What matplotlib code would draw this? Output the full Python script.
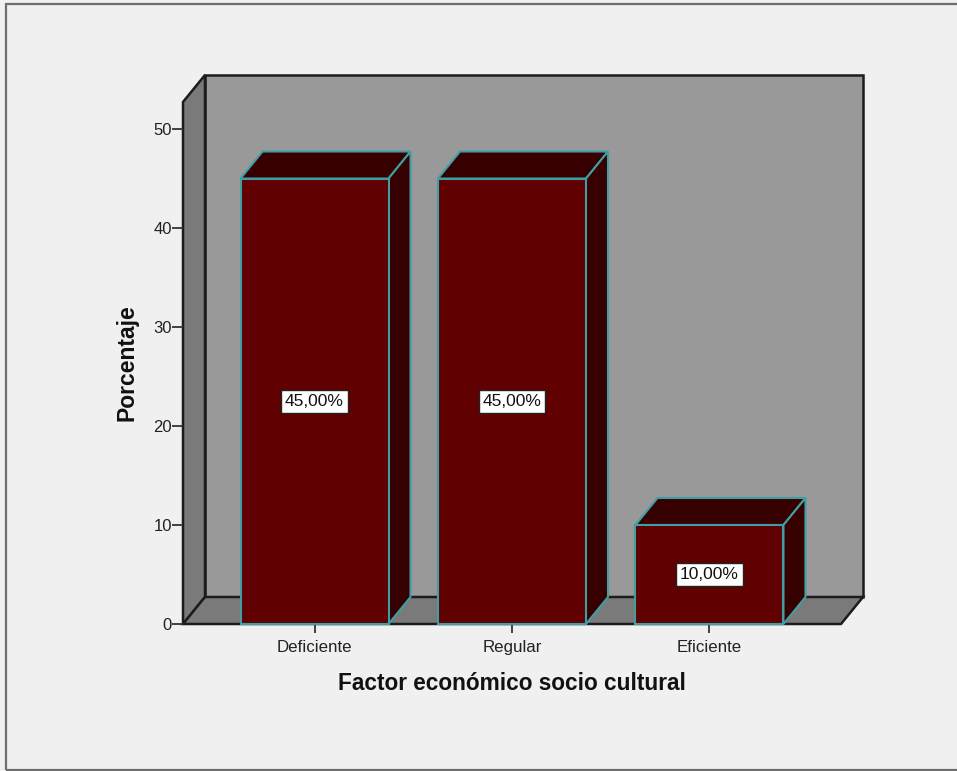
import matplotlib
matplotlib.use("Agg")
import matplotlib.pyplot as plt
from matplotlib.patches import Polygon, Rectangle

categories = ["Deficiente", "Regular", "Eficiente"]
values = [45.0, 45.0, 10.0]
value_labels = ["45,00%", "45,00%", "10,00%"]
y_ticks = [0, 10, 20, 30, 40, 50]

plt.rcParams['font.family'] = ['Liberation Sans', 'DejaVu Sans']

W, H = 957, 771
BG = '#f0f0f0'
FRONT = '#600000'
DARK = '#360000'
TEAL = '#3f9ea3'
WALL = '#999999'
SIDE = '#7a7a7a'
EDGE = '#1c1c1c'

fig = plt.figure(figsize=(W / 100, H / 100), dpi=100, facecolor=BG)

# outer frame of the output window
fig.add_artist(Rectangle((5.5 / W, 1 - 770 / H), 960 / W, 766 / H, transform=fig.transFigure,
                         fill=False, edgecolor='#6e6e6e', linewidth=1.6))

# the axes rectangle is the front plane of the 3D box
ax = fig.add_axes([183 / W, 1 - 624 / H, (841 - 183) / W, (624 - 102) / H])
ax.set_xlim(-0.666, 2.666)
ax.set_ylim(0, 52.73)
ax.patch.set_visible(False)
for s in ax.spines.values():
    s.set_visible(False)

# depth of the box and of the bars, in data units
dx = 22 / 197.5
dy = 27 / 9.9
xl, xr = ax.get_xlim()
top = ax.get_ylim()[1]


def poly(pts, face, edge=EDGE, lw=1.8, z=1):
    ax.add_patch(Polygon(pts, closed=True, facecolor=face, edgecolor=edge, linewidth=lw,
                         joinstyle='miter', clip_on=False, zorder=z))


poly([(xl + dx, dy), (xr + dx, dy), (xr + dx, top + dy), (xl + dx, top + dy)], WALL)
poly([(xl, 0), (xl + dx, dy), (xl + dx, top + dy), (xl, top)], SIDE)
poly([(xl, 0), (xr, 0), (xr + dx, dy), (xl + dx, dy)], SIDE)

bar_w = 148 / 197.5
for i, (v, lab) in enumerate(zip(values, value_labels)):
    x0 = i - bar_w / 2
    x1 = i + bar_w / 2
    poly([(x0, v), (x1, v), (x1 + dx, v + dy), (x0 + dx, v + dy)], DARK, TEAL, 1.5, 3)
    poly([(x1, 0), (x1 + dx, dy), (x1 + dx, v + dy), (x1, v)], DARK, TEAL, 1.5, 3)
    ax.bar(i, v, width=bar_w, color=FRONT, edgecolor=TEAL, linewidth=1.5, zorder=4, clip_on=False)
    ax.text(i, v / 2, lab, ha='center', va='center', fontsize=12.5, color='#111111', zorder=6,
            bbox=dict(boxstyle='square,pad=0.22', facecolor='white', edgecolor='#222222', linewidth=1.0))

ax.set_xticks(range(len(categories)))
ax.set_xticklabels(categories)
ax.set_yticks(y_ticks)
ax.tick_params(axis='x', length=6.5, width=1.3, color='#333333', labelsize=12.2,
               labelcolor='#222222', pad=5)
ax.tick_params(axis='y', length=8, width=1.3, color='#333333', labelsize=12,
               labelcolor='#222222', pad=0)

fig.text(511.5 / W, 1 - 683 / H, "Factor económico socio cultural", ha='center', va='center',
         fontsize=16.3, fontweight='bold', color='#111111')
fig.text(127.5 / W, 1 - 363 / H, "Porcentaje", ha='center', va='center', rotation=90,
         fontsize=16.5, fontweight='bold', color='#111111')

fig.savefig('out.png', dpi=100, facecolor=BG)
